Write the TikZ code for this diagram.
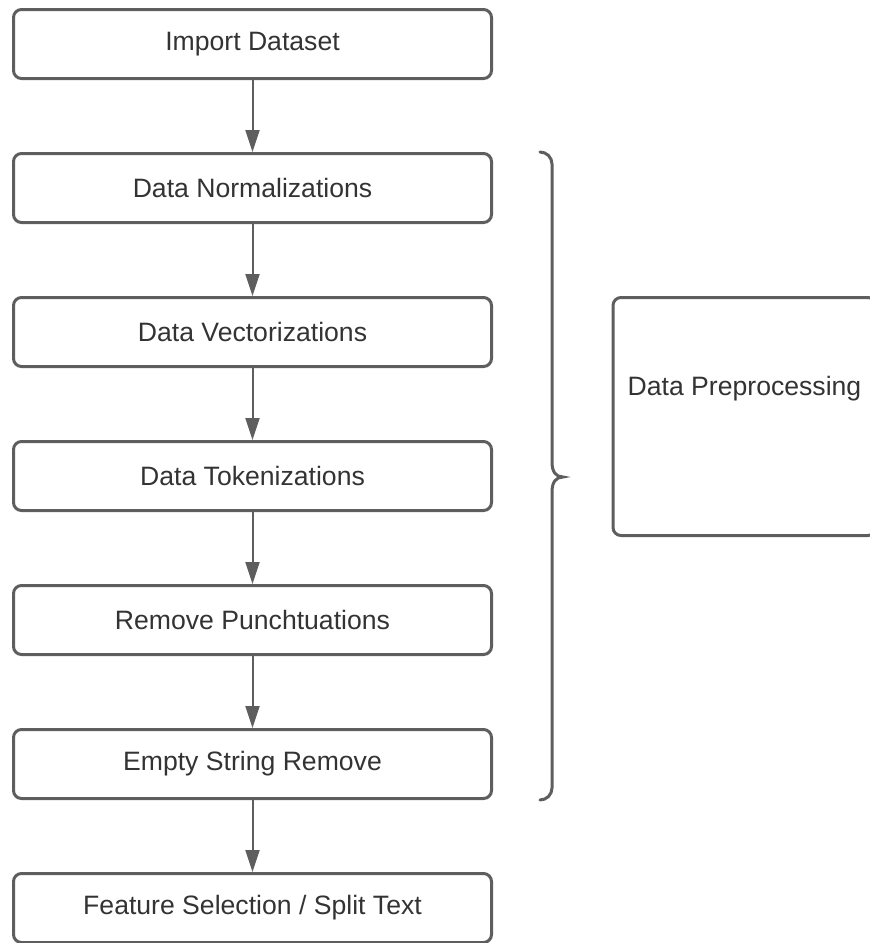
\documentclass[tikz,border=0pt]{standalone}
\usepackage{fontspec}
\setmainfont{Liberation Sans}
\usepackage{xcolor}
\usetikzlibrary{arrows.meta, positioning}
\definecolor{linegray}{HTML}{5E5E5E}
\definecolor{textgray}{HTML}{333333}
\tikzset{
    stepbox/.style={
      draw=linegray,
      line width=3pt,
      rounded corners=8pt,
      minimum width=478pt,
      minimum height=69pt,
      inner sep=0pt,
      text=textgray,
      font=\fontsize{26.6}{30}\selectfont,
    },
    flow/.style={
      -{Triangle[length=22pt, width=14pt]}, %filled head
      draw=linegray,
      line width=2pt,
    }
  }
\begin{document}
\begin{tikzpicture}[x=1pt, y=-1pt, node distance=72pt]
          \useasboundingbox (0,0) rectangle (870,943);

          \node[stepbox] (import) at (252.5,44) {Import Dataset};
          \node[stepbox, below=of import] (norm) {Data Normalizations};
          \node[stepbox, below=of norm] (vect) {Data Vectorizations};
          \node[stepbox, below=of vect] (token) {Data Tokenizations};
          \node[stepbox, below=of token] (punct) {Remove Punchtuations};
          \node[stepbox, below=of punct] (empty) {Empty String Remove};
          \node[stepbox, below=of empty] (feature) {Feature Selection / Split Text};

          \foreach \a/\b in {import/norm, norm/vect, vect/token, token/punct, punct/empty, empty/feature}
            \draw[flow] (\a.south) -- (\b.north);

          % side block and its brace
          \node[stepbox, minimum width=263pt, minimum height=238pt] (prep) at (744.5,416.5) {};
          \node[text=textgray, font=\fontsize{26.6}{30}\selectfont] (preplabel) at ([yshift=28pt]prep.center) {Data Preprocessing};

          \draw[linegray, line width=3pt, line cap=round]
            (540,152) arc[start angle=-90, end angle=0, radius=12]
            -- (552,462) .. controls (552,472) and (556,477) .. (563,477)
            .. controls (556,477) and (552,482) .. (552,492)
            -- (552,788) arc[start angle=0, end angle=90, radius=12];
        \end{tikzpicture}
\end{document}
